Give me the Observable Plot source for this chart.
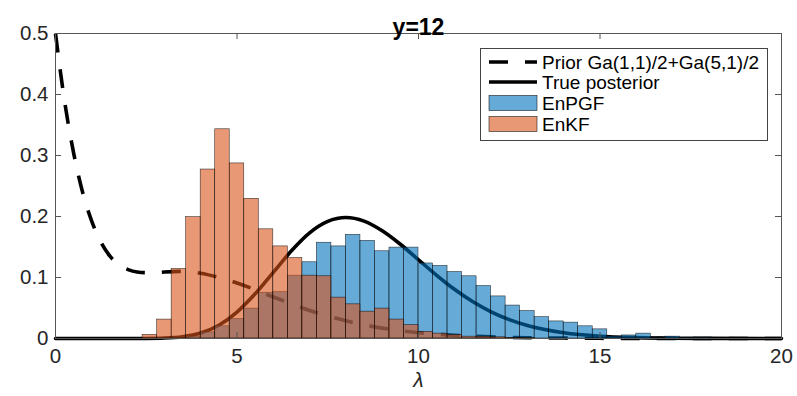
<!DOCTYPE html>
<html><head><meta charset="utf-8">
<script src="https://cdn.jsdelivr.net/npm/d3@7"></script>
<script src="https://cdn.jsdelivr.net/npm/@observablehq/plot@0.6"></script>
<style>
body{margin:0;background:#fff;}
#wrap{position:relative;width:797px;height:396px;font-family:"Liberation Sans",Arial,Helvetica,sans-serif;}
#legend{position:absolute;left:0;top:0;pointer-events:none;}
</style>
</head><body>
<div id="wrap"></div>
<script>
// ---- data ----
const title = "y=12";
const xLabel = "λ";
const xTicks = [0, 5, 10, 15, 20];
const yTicks = [0, 0.1, 0.2, 0.3, 0.4, 0.5];
const seriesNames = ["Prior Ga(1,1)/2+Ga(5,1)/2", "True posterior", "EnPGF", "EnKF"];

// histogram bin edges (width 0.4)
const binEdges = [2.4, 2.8, 3.2, 3.6, 4.0, 4.4, 4.8, 5.2, 5.6, 6.0, 6.4, 6.8, 7.2, 7.6, 8.0, 8.4, 8.8, 9.2, 9.6, 10.0,
  10.4, 10.8, 11.2, 11.6, 12.0, 12.4, 12.8, 13.2, 13.6, 14.0, 14.4, 14.8, 15.2, 15.6, 16.0, 16.4, 16.8, 17.2, 17.6, 18.0];
const enkf = [0.006, 0.031, 0.114, 0.199, 0.277, 0.343, 0.287, 0.229, 0.179, 0.151, 0.132, 0.103, 0.102, 0.067, 0.056, 0.044,
  0.049, 0.031, 0.022, 0.011, 0.008, 0.006, 0.003, 0.003, 0.002, 0.001, 0.001, 0, 0, 0, 0, 0, 0, 0, 0, 0, 0, 0, 0];
const enpgf = [0, 0, 0.001, 0.003, 0.010, 0.020, 0.032, 0.049, 0.075, 0.076, 0.103, 0.125, 0.157, 0.151, 0.170, 0.160,
  0.143, 0.149, 0.149, 0.123, 0.119, 0.109, 0.102, 0.086, 0.069, 0.054, 0.045, 0.035, 0.028, 0.026, 0.020, 0.015, 0.003,
  0.005, 0.008, 0.001, 0.003, 0.001, 0.001];

// prior density curve
const priorX = [0, 0.25, 0.5, 0.75, 1, 1.25, 1.5, 1.75, 2, 2.25, 2.5, 2.75, 3, 3.5, 4, 4.5, 5, 5.5, 6, 6.5, 7, 7.5, 8, 9, 10, 11, 12, 13, 14, 15, 16, 18, 20];
const priorY = [0.5, 0.389, 0.304, 0.239, 0.192, 0.158, 0.135, 0.121, 0.113, 0.109, 0.108, 0.108, 0.109, 0.110, 0.107, 0.100,
  0.091, 0.080, 0.068, 0.057, 0.046, 0.037, 0.029, 0.017, 0.0095, 0.0051, 0.0027, 0.0013, 0.0007, 0.0003, 0.0002, 0, 0];

// true posterior curve
const postX = [0, 1, 2, 2.5, 3, 3.5, 4, 4.5, 5, 5.5, 6, 6.5, 7, 7.5, 8, 8.5, 9, 9.5, 10, 10.5, 11, 11.5, 12, 12.5, 13, 14, 15, 16, 17, 18, 20];
const postY = [0, 0, 0, 0.0001, 0.0007, 0.0029, 0.009, 0.0218, 0.0434, 0.0733, 0.1085, 0.1437, 0.1731, 0.1919, 0.1983, 0.1924,
  0.1766, 0.1545, 0.129, 0.1036, 0.0802, 0.0601, 0.0437, 0.0309, 0.0213, 0.0094, 0.0038, 0.0015, 0.0005, 0.0002, 0];

// ---- build tables ----
const bins = enkf.map((v, i) => ({x1: binEdges[i], x2: binEdges[i + 1], enkf: v, enpgf: enpgf[i]}));
const prior = priorX.map((x, i) => ({x, y: priorY[i]}));
const post = postX.map((x, i) => ({x, y: postY[i]}));

const W = 797, H = 396, mL = 55, mR = 16, mT = 33, mB = 58;
const innerW = W - mL - mR, innerH = H - mT - mB;
const tickLen = 6;
const axisColor = "#555";
const textColor = "#262626";
const blue = "rgb(0,114,189)", orange = "rgb(217,83,25)";
const font = '"Liberation Sans", Arial, Helvetica, sans-serif';

const chart = Plot.plot({
  width: W, height: H,
  marginLeft: mL, marginRight: mR, marginTop: mT, marginBottom: mB,
  style: {fontFamily: font, background: "#fff", overflow: "visible"},
  x: {domain: [0, 20]},
  y: {domain: [0, 0.5]},
  marks: [
    Plot.line(prior, {x: "x", y: "y", stroke: "#000", strokeWidth: 3.6, strokeDasharray: "19,17", curve: "monotone-x", strokeLinecap: "butt"}),
    Plot.line(post, {x: "x", y: "y", stroke: "#000", strokeWidth: 3.6, curve: "monotone-x"}),
    Plot.rectY(bins, {x1: "x1", x2: "x2", y: "enpgf", fill: blue, fillOpacity: 0.6, stroke: "#000", strokeWidth: 0.6, strokeOpacity: 0.75}),
    Plot.rectY(bins, {x1: "x1", x2: "x2", y: "enkf", fill: orange, fillOpacity: 0.6, stroke: "#000", strokeWidth: 0.6, strokeOpacity: 0.75}),
    Plot.frame({stroke: axisColor, strokeWidth: 1}),
    Plot.ruleX(xTicks, {x: d => d, insetTop: innerH - tickLen, stroke: axisColor}),
    Plot.ruleX(xTicks, {x: d => d, insetBottom: innerH - tickLen, stroke: axisColor}),
    Plot.ruleY(yTicks, {y: d => d, insetRight: innerW - tickLen, stroke: axisColor}),
    Plot.ruleY(yTicks, {y: d => d, insetLeft: innerW - tickLen, stroke: axisColor}),
    Plot.axisX({ticks: xTicks, tickSize: 0, tickPadding: 10, fontSize: 20.5, fill: textColor, label: null, tickFormat: d => String(d)}),
    Plot.axisY({ticks: yTicks, tickSize: 0, tickPadding: 7, fontSize: 20.5, fill: textColor, label: null, tickFormat: d => String(d)}),
    Plot.text([title], {frameAnchor: "top", dy: -15, fontSize: 23, fontWeight: "bold", fill: "#000", text: d => d}),
    Plot.text([xLabel], {frameAnchor: "bottom", dy: 48, fontSize: 21, fontStyle: "italic", fill: textColor, text: d => d})
  ]
});
document.getElementById("wrap").appendChild(chart);

// ---- legend overlay ----
const lg = d3.select("#wrap").append("svg").attr("id", "legend").attr("width", W).attr("height", H);
const bx = 480, by = 48, bw = 287, bh = 92;
lg.append("rect").attr("x", bx + 0.5).attr("y", by + 0.5).attr("width", bw).attr("height", bh)
  .attr("fill", "#fff").attr("stroke", "#444").attr("stroke-width", 1);
const rowY = [62, 82, 103, 124];
const sx1 = 489, sx2 = 537;
seriesNames.forEach((name, i) => {
  const cy = rowY[i];
  if (i === 0) {
    lg.append("line").attr("x1", sx1).attr("x2", sx2).attr("y1", cy).attr("y2", cy)
      .attr("stroke", "#000").attr("stroke-width", 3.6).attr("stroke-dasharray", "19,17");
  } else if (i === 1) {
    lg.append("line").attr("x1", sx1).attr("x2", sx2).attr("y1", cy).attr("y2", cy)
      .attr("stroke", "#000").attr("stroke-width", 3.6);
  } else {
    lg.append("rect").attr("x", sx1).attr("y", cy - 7.5).attr("width", sx2 - sx1).attr("height", 15)
      .attr("fill", i === 2 ? blue : orange).attr("fill-opacity", 0.6).attr("stroke", "#000").attr("stroke-opacity", 0.75).attr("stroke-width", 0.7);
  }
  lg.append("text").attr("x", 542).attr("y", cy + 6.5).attr("font-size", 19)
    .attr("font-family", font).attr("fill", "#000").text(name);
});
</script>
</body></html>
